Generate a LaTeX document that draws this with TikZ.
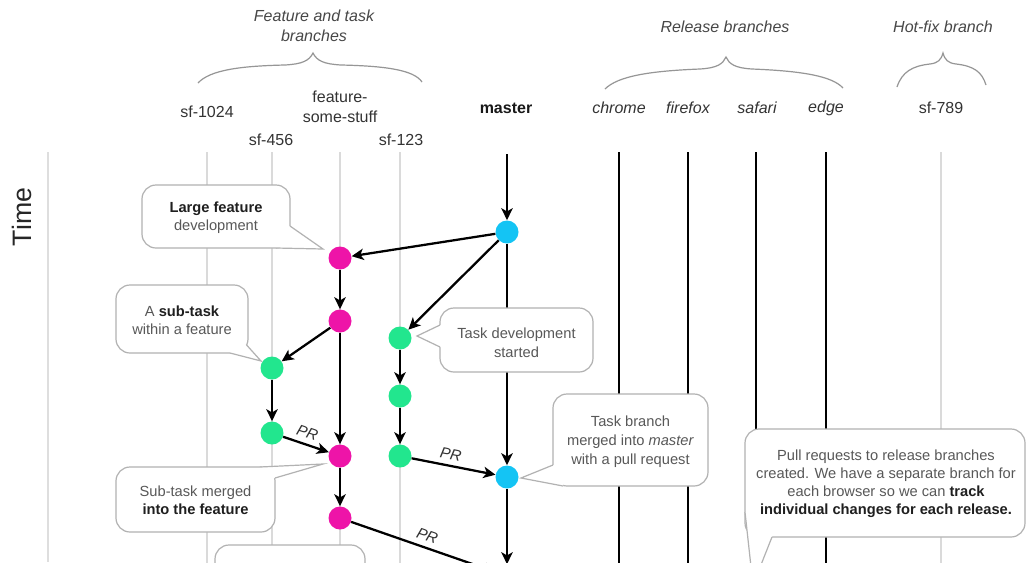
\documentclass[tikz,border=0pt]{standalone}
\usepackage{fontspec}
\setmainfont{Liberation Sans}
\usetikzlibrary{arrows.meta}
\definecolor{cmag}{RGB}{238,20,168}
\definecolor{cgreen}{RGB}{34,230,142}
\definecolor{cblue}{RGB}{20,196,244}
\definecolor{branchgray}{RGB}{218,218,218}
\definecolor{axisgray}{RGB}{222,222,222}
\definecolor{boxgray}{RGB}{178,178,178}
\definecolor{txtgray}{RGB}{88,88,88}
\definecolor{bracegray}{RGB}{150,150,150}
\newcommand\bt[1]{\textbf{\color{black!88}#1}}
\tikzset{
  commit/.style={circle, inner sep=0pt, minimum size=17.25pt},
  flow/.style={line width=1.7pt, black, -{Stealth[length=9pt,width=8.5pt,inset=2.4pt]}},
  branchline/.style={line width=1.1pt, branchgray},
  releaseline/.style={line width=1.6pt, black},
  callbox/.style={fill=white, draw=boxgray, line width=0.9pt, rounded corners=10.5pt},
  calltext/.style={align=center, text=txtgray, font=\fontsize{11}{13.5}\selectfont, inner sep=0pt},
  ptrline/.style={draw=boxgray, line width=0.9pt, line join=miter},
  heading/.style={font=\fontsize{12}{15}\selectfont\itshape, text=black!72, align=center},
  blabel/.style={font=\fontsize{12}{15}\selectfont, text=black!80, align=center},
  brace/.style={draw=bracegray, line width=0.9pt},
  prlabel/.style={font=\fontsize{11.5}{13}\selectfont\itshape, text=black!80, sloped, above=3pt, inner sep=1pt},
}
\begin{document}
\begin{tikzpicture}[x=0.75pt,y=-0.75pt]
\useasboundingbox (0,0) rectangle (1026,562);
\clip (0,0) rectangle (1026,562);
\fill[white] (0,0) rectangle (1026,562);

% headings and braces
\node[heading] (hfeat) at (314,26) {Feature and task\\branches};
\node[heading] (hrel) at (725,27) {Release branches};
\node[heading] (hhot) at (943,27) {Hot-fix branch};
\draw[brace] (198,83) .. controls (210,70) and (240,66) .. (285,65) .. controls (302,64) and (309,61) .. (313,53) .. controls (317,61) and (324,64) .. (341,65) .. controls (386,66) and (414,70) .. (422,82);
\draw[brace] (605,89) .. controls (618,76) and (650,71) .. (700,69) .. controls (717,68) and (723,64) .. (726,57) .. controls (729,64) and (735,68) .. (752,69) .. controls (802,71) and (832,76) .. (843,88);
\draw[brace] (897,87) .. controls (902,72) and (912,66) .. (930,64) .. controls (938,63) and (941,60) .. (943,53) .. controls (945,60) and (948,63) .. (956,64) .. controls (974,66) and (982,72) .. (986,85);

% branch labels
\node[blabel] (l1024) at (207,112) {sf-1024};
\node[blabel] (lfeat) at (340,107) {feature-\\some-stuff};
\node[blabel] (l456) at (271,140) {sf-456};
\node[blabel] (l123) at (401,140) {sf-123};
\node[blabel, font=\fontsize{12}{15}\selectfont\bfseries, text=black!90] (lmaster) at (506,108) {master};
\node[blabel, font=\fontsize{12}{15}\selectfont\itshape] (lchrome) at (619,108) {chrome};
\node[blabel, font=\fontsize{12}{15}\selectfont\itshape] (lfirefox) at (688,108) {firefox};
\node[blabel, font=\fontsize{12}{15}\selectfont\itshape] (lsafari) at (757,108) {safari};
\node[blabel, font=\fontsize{12}{15}\selectfont\itshape] (ledge) at (826,108) {edge};
\node[blabel] (l789) at (941,108) {sf-789};

% time axis
\node[rotate=90, font=\fontsize{20}{24}\selectfont, text=black!85] (time) at (22,217) {Time};
\coordinate (axtop) at (48,152); \coordinate (axbot) at (48,562);
\draw[line width=2.2pt, axisgray] (axtop) -- (axbot);

% branch lines
\foreach \n/\x in {a/207,b/272,c/340,d/400,e/941}{
  \coordinate (g\n top) at (\x,152); \coordinate (g\n bot) at (\x,600);
  \draw[branchline] (g\n top) -- (g\n bot);
}
\foreach \n/\x in {chrome/619,firefox/688,safari/756,edge/826}{
  \coordinate (r\n top) at (\x,152); \coordinate (r\n bot) at (\x,600);
  \draw[releaseline] (r\n top) -- (r\n bot);
}

% commits
\node[commit, fill=cblue] (b1) at (507,232) {};
\node[commit, fill=cmag] (f1) at (340,258) {};
\node[commit, fill=cmag] (f2) at (340,321) {};
\node[commit, fill=cgreen] (t1) at (400,338) {};
\node[commit, fill=cgreen] (s1) at (272,368) {};
\node[commit, fill=cgreen] (t2) at (400,396) {};
\node[commit, fill=cgreen] (s2) at (272,433) {};
\node[commit, fill=cmag] (f3) at (340,456) {};
\node[commit, fill=cgreen] (t3) at (400,456) {};
\node[commit, fill=cblue] (b2) at (507,477) {};
\node[commit, fill=cmag] (f4) at (340,518) {};
\node[commit] (b3) at (507,576) {};
\coordinate (mtop) at (507,154);

% flows
\draw[flow] (mtop) -- (b1);
\draw[flow] (b1) -- (b2);
\draw[flow] (b2) -- (b3);
\draw[flow] (b1) -- (f1);
\draw[flow] (b1) -- (t1);
\draw[flow] (f1) -- (f2);
\draw[flow] (f2) -- (s1);
\draw[flow] (f2) -- (f3);
\draw[flow] (s1) -- (s2);
\draw[flow] (s2) -- node[prlabel, pos=0.45] (pr1) {PR} (f3);
\draw[flow] (t1) -- (t2);
\draw[flow] (t2) -- (t3);
\draw[flow] (t3) -- node[prlabel, pos=0.44] (pr2) {PR} (b2);
\draw[flow] (f3) -- (f4);
\draw[flow] (f4) -- node[prlabel, pos=0.5] (pr3) {PR} (b3);

% callout 1
\draw[callbox] (142,185) rectangle (290,248);
\fill[white] (290,226) -- (323,249) -- (276,248) -- (276,244) -- (286,226) -- cycle;
\draw[ptrline] (290,226) -- (323,249) -- (276,248);
\node[calltext] (c1) at (216,217.5) {\bt{Large feature}\\development};

% callout 2
\draw[callbox] (116,285) rectangle (248,353);
\fill[white] (246.6,345) -- (261,361) -- (230,353) -- (230,349) -- (242,345) -- cycle;
\draw[ptrline] (246.6,345) -- (261,361) -- (230,353);
\node[calltext] (c2) at (182,320.5) {A \bt{sub-task}\\within a feature};

% callout 3
\draw[callbox] (440,308) rectangle (593,372);
\fill[white] (440,325) -- (417,336) -- (440,347) -- (444,347) -- (444,325) -- cycle;
\draw[ptrline] (440,325) -- (417,336) -- (440,347);
\node[calltext, font=\fontsize{11}{14.2}\selectfont] (c3) at (516.5,342.5) {Task development\\started};

% callout 4
\draw[callbox] (553,394) rectangle (708,486);
\fill[white] (553,465) -- (521,478) -- (563,486) -- (563,482) -- (557,465) -- cycle;
\draw[ptrline] (553,465) -- (521,478) -- (563,486);
\node[calltext, font=\fontsize{11}{14.2}\selectfont] (c4) at (630.5,442) {Task branch\\merged into \textit{master}\\with a pull request};

% callout 5
\draw[callbox] (745,429) rectangle (1025,537);
\fill[white] (745,512) -- (753,585) -- (772,537) -- (772,532) -- (749,512) -- cycle;
\draw[ptrline] (745,512) -- (753,585) -- (772,537);
\node[calltext] (c5) at (886,484) {Pull requests to release branches\\created. We have a separate branch for\\each browser so we can \bt{track}\\\bt{individual changes for each release.}};

% callout 6
\draw[callbox] (116,467) rectangle (275,532);
\fill[white] (260,467) -- (323,464) -- (275,478) -- (271,478) -- (260,471) -- cycle;
\draw[ptrline] (260,467) -- (323,464) -- (275,478);
\node[calltext] (c6) at (195.5,500.5) {Sub-task merged\\\bt{into the feature}};

% callout 7 (cut off at the bottom)
\draw[callbox] (215,545) rectangle (365,620);
\end{tikzpicture}
\end{document}
